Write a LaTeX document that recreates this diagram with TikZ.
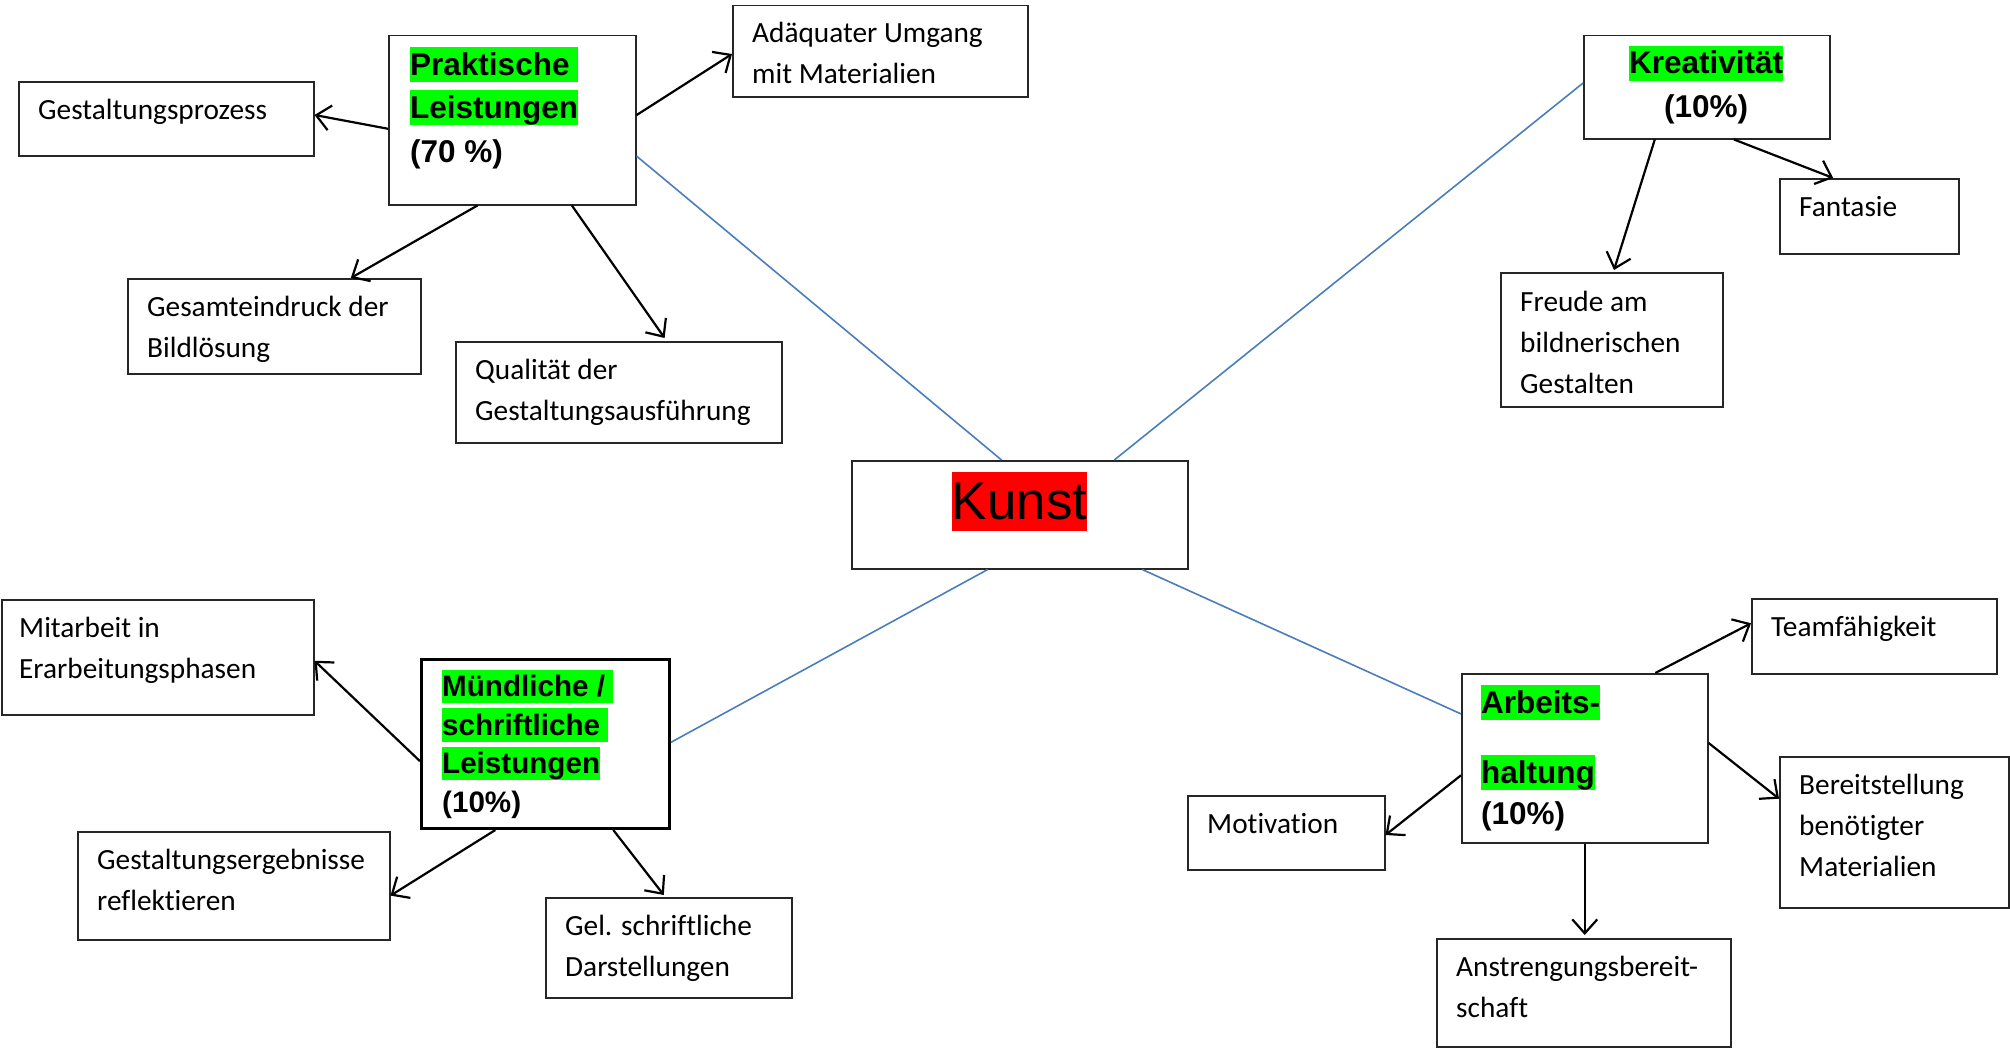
\documentclass[tikz,border=0pt]{standalone}
\usepackage{fontspec}
\setmainfont{Carlito}[Ligatures=NoCommon]
\newfontfamily\headfont{Liberation Sans}
\usetikzlibrary{arrows.meta,calc}
\definecolor{hlgreen}{HTML}{00FF00}
\definecolor{hlred}{HTML}{FF0000}
\definecolor{linkblue}{HTML}{4A7EBB}
\newcommand\bodyfont{\fontsize{29.3}{41}\selectfont}
\newcommand\hl[2][hlgreen]{{\fboxsep=0pt\colorbox{#1}{\rule[-0.22em]{0pt}{1.12em}#2}}}
\tikzset{
  box/.style={draw=black!85, line width=1.5pt, inner sep=0pt, anchor=north west, fill=white},
  txt/.style={anchor=base west, inner sep=0pt},
  arr/.style={draw=black, line width=2.2pt, -{Straight Barb[length=14pt,width=25pt,line width=2.2pt]}},
  link/.style={draw=linkblue, line width=1.6pt}
}
\begin{document}
\begin{tikzpicture}[x=1pt,y=-1pt]
\useasboundingbox (0,0) rectangle (2010,1049);
% boxes
\node[box, minimum width=295pt, minimum height=74pt] (gest) at (18,81) {};
\node[box, minimum width=295pt, minimum height=91pt] (adaq) at (732,5) {};
\node[box, minimum width=247pt, minimum height=169pt] (prak) at (388,35) {};
\node[box, minimum width=293pt, minimum height=95pt] (gesamt) at (127,278) {};
\node[box, minimum width=326pt, minimum height=101pt] (qual) at (455,341) {};
\node[box, minimum width=336pt, minimum height=108pt] (kunst) at (851,460) {};
\node[box, minimum width=246pt, minimum height=103pt] (kreat) at (1583,35) {};
\node[box, minimum width=179pt, minimum height=75pt] (fant) at (1779,178) {};
\node[box, minimum width=222pt, minimum height=134pt] (freude) at (1500,272) {};
\node[box, minimum width=312pt, minimum height=115pt] (mitarb) at (1,599) {};
\node[box, line width=3pt, draw=black, minimum width=248pt, minimum height=169pt] (muend) at (420,658) {};
\node[box, minimum width=312pt, minimum height=108pt] (gerg) at (77,831) {};
\node[box, minimum width=246pt, minimum height=100pt] (gel) at (545,897) {};
\node[box, minimum width=245pt, minimum height=75pt] (team) at (1751,598) {};
\node[box, minimum width=246pt, minimum height=169pt] (arb) at (1461,673) {};
\node[box, minimum width=197pt, minimum height=74pt] (motiv) at (1187,795) {};
\node[box, minimum width=229pt, minimum height=151pt] (bereit) at (1779,756) {};
\node[box, minimum width=294pt, minimum height=108pt] (anstr) at (1436,938) {};
% body texts
\node[txt] (t-gest) at ($(gest.north west)+(20,38)$) {\parbox[t]{400pt}{\bodyfont Gestaltungsprozess}};
\node[txt] (t-adaq) at ($(adaq.north west)+(20,38)$) {\parbox[t]{400pt}{\bodyfont Adäquater Umgang\\mit Materialien}};
\node[txt] (t-gesamt) at ($(gesamt.north west)+(20,38)$) {\parbox[t]{400pt}{\bodyfont Gesamteindruck der\\Bildlösung}};
\node[txt] (t-qual) at ($(qual.north west)+(20,38)$) {\parbox[t]{400pt}{\bodyfont Qualität der\\Gestaltungsausführung}};
\node[txt] (t-fant) at ($(fant.north west)+(20,38)$) {\parbox[t]{400pt}{\bodyfont Fantasie}};
\node[txt] (t-freude) at ($(freude.north west)+(20,39)$) {\parbox[t]{400pt}{\bodyfont Freude am\\bildnerischen\\Gestalten}};
\node[txt] (t-mitarb) at ($(mitarb.north west)+(18,38)$) {\parbox[t]{400pt}{\bodyfont Mitarbeit in\\Erarbeitungsphasen}};
\node[txt] (t-gerg) at ($(gerg.north west)+(20,38)$) {\parbox[t]{400pt}{\bodyfont Gestaltungsergebnisse\\reflektieren}};
\node[txt] (t-gel) at ($(gel.north west)+(20,38)$) {\parbox[t]{400pt}{\bodyfont Gel. schriftliche\\Darstellungen}};
\node[txt] (t-team) at ($(team.north west)+(20,38)$) {\parbox[t]{400pt}{\bodyfont Teamfähigkeit}};
\node[txt] (t-motiv) at ($(motiv.north west)+(20,38)$) {\parbox[t]{400pt}{\bodyfont Motivation}};
\node[txt] (t-bereit) at ($(bereit.north west)+(20,38)$) {\parbox[t]{400pt}{\bodyfont Bereitstellung\\benötigter\\Materialien}};
\node[txt] (t-anstr) at ($(anstr.north west)+(20,38)$) {\parbox[t]{400pt}{\bodyfont Anstrengungsbereit-\\schaft}};
% headings
\node[txt] (h-prak) at (410,75) {\parbox[t]{300pt}{\headfont\bfseries\fontsize{31.5}{43.5}\selectfont \hl{Praktische\ }\\\hl{Leistungen}\\(70 \%)}};
\node[txt] (h-kreat) at (1583,74) {\parbox[t]{246pt}{\centering\headfont\bfseries\fontsize{31.5}{44}\selectfont \hl{Kreativität}\\(10\%)}};
\node[txt] (h-muend) at (442,696.5) {\parbox[t]{300pt}{\headfont\bfseries\fontsize{29.6}{38.6}\selectfont \hl{Mündliche /\ }\\\hl{schriftliche\ }\\\hl{Leistungen}\\(10\%)}};
\node[txt] (h-arb) at (1481,713.5) {\parbox[t]{300pt}{\headfont\bfseries\fontsize{31.5}{41}\selectfont \hl{Arbeits-}\\[29pt]\hl{haltung}\\(10\%)}};
\node[anchor=base, inner sep=0pt] (h-kunst) at (1019.5,519.5) {\headfont\fontsize{53}{60}\selectfont\hl[hlred]{Kunst}};
% blue links
\draw[link] ($(prak.north east)!0.71!(prak.south east)$) -- ($(kunst.north west)!0.446!(kunst.north east)$);
\draw[link] ($(kreat.north west)!0.46!(kreat.south west)$) -- ($(kunst.north west)!0.78!(kunst.north east)$);
\draw[link] ($(kunst.south west)!0.405!(kunst.south east)$) -- ($(muend.north east)!0.49!(muend.south east)$);
\draw[link] ($(kunst.south west)!0.863!(kunst.south east)$) -- ($(arb.north west)!0.24!(arb.south west)$);
% arrows
\draw[arr] ($(prak.north west)!0.55!(prak.south west)$) -- ($(gest.north east)!0.45!(gest.south east)$);
\draw[arr] ($(prak.north east)!0.47!(prak.south east)$) -- ($(adaq.north west)!0.53!(adaq.south west)$);
\draw[arr] ($(prak.south west)!0.36!(prak.south east)$) -- ($(gesamt.north west)!0.76!(gesamt.north east)$);
\draw[arr] ($(prak.south west)!0.74!(prak.south east)$) -- ($(qual.north west)!0.64!(qual.north east)+(0,-3)$);
\draw[arr] ($(kreat.south west)!0.29!(kreat.south east)$) -- ($(freude.north west)!0.51!(freude.north east)+(0,-2)$);
\draw[arr] ($(kreat.south west)!0.61!(kreat.south east)$) -- ($(fant.north west)!0.30!(fant.north east)$);
\draw[arr] ($(muend.north west)!0.60!(muend.south west)$) -- ($(mitarb.north east)!0.53!(mitarb.south east)$);
\draw[arr] ($(muend.south west)!0.30!(muend.south east)$) -- ($(gerg.north east)!0.59!(gerg.south east)$);
\draw[arr] ($(muend.south west)!0.77!(muend.south east)$) -- ($(gel.north west)!0.48!(gel.north east)+(0,-2)$);
\draw[arr] ($(arb.north west)!0.785!(arb.north east)$) -- ($(team.north west)!0.33!(team.south west)$);
\draw[arr] ($(arb.north east)!0.41!(arb.south east)$) -- ($(bereit.north west)!0.28!(bereit.south west)$);
\draw[arr] ($(arb.north west)!0.60!(arb.south west)$) -- ($(motiv.north east)!0.53!(motiv.south east)$);
\draw[arr] (arb.south) -- ($(arb.south |- anstr.north)+(0,-3)$);
\end{tikzpicture}
\end{document}
